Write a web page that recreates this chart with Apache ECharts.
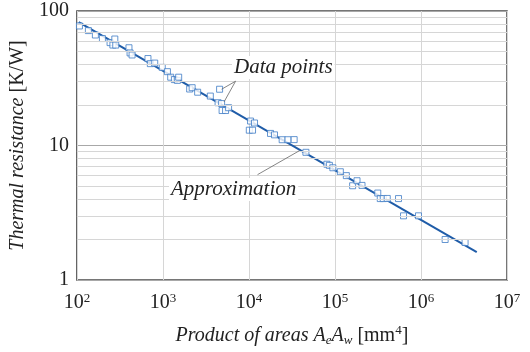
<!DOCTYPE html>
<html><head><meta charset="utf-8">
<script src="https://cdn.jsdelivr.net/npm/echarts@6/dist/echarts.min.js"></script>
<style>html,body{margin:0;padding:0;background:#fff}#c{width:530px;height:352px}</style>
</head><body><div id="c"></div>
<script>
// Data points (product of areas AeAw [mm^4], thermal resistance [K/W])
var areaVals = [107,136,164,198,243,276,262,283,403,415,438,670,714,803,982,1128,1232,1360,1473,1525,
  2046,2187,2533,3556,4560,4380,4810,4875,5350,5800,10440,11610,10100,11010,17810,19820,24340,28420,33540,45960,
  80550,86100,94500,115500,135600,160500,180500,206300,314600,336300,364300,405500,548200,626600,935400,1909000,3257000];
var resistVals = [77.4,71.5,66.3,62.4,58.2,61.9,55.8,55.8,53.3,48.8,47.1,44.3,40.6,41.0,38.1,35.4,32.2,30.9,30.5,32.2,
  26.3,26.9,24.9,23.3,26.2,20.8,20.5,18.2,18.2,19.1,15.2,14.7,13.0,13.0,12.3,12.0,11.04,11.04,11.06,8.9,
  7.26,7.12,6.83,6.38,5.97,5.02,5.47,5.05,4.43,4.03,4.03,4.04,4.03,3.0,3.0,2.0,1.9];
// Approximation line endpoints
var approxX = [105, 4450000];
var approxY = [82.8, 1.61];
// Axis ticks
var xTicks = [100, 1000, 10000, 100000, 1000000, 10000000];
var yTicks = [1, 10, 100];
var yMinor = [2,3,4,5,6,7,8,9,20,30,40,50,60,70,80,90];
// Annotation pointers (data space)
var dpFrom = [6990, 30.05];
var dpTo1 = [4810, 26.2];
var dpTo2 = [5140, 21.1];
var apFrom = [12580, 6.07];
var apTo = [38640, 9.15];

var serif = "'Liberation Serif','Times New Roman',serif";
var chart = echarts.init(document.getElementById('c'));
var pts = areaVals.map(function(v,i){return [v, resistVals[i]];});
var approx = approxX.map(function(v,i){return [v, approxY[i]];});

chart.setOption({
  animation: false,
  backgroundColor: '#fff',
  grid: {left: 76, right: 23, top: 11, bottom: 66, show: true, borderColor: '#4a4a4a', borderWidth: 1.5, backgroundColor: 'transparent'},
  xAxis: {
    type: 'log', logBase: 10, min: xTicks[0], max: xTicks[xTicks.length-1],
    axisLine: {show: false}, axisTick: {show: false},
    splitLine: {show: true, lineStyle: {color: '#d6d6d6', width: 1}},
    axisLabel: {
      margin: 12,
      formatter: function(v){ return '{b|10}{s|' + Math.round(Math.log10(v)) + '}'; },
      rich: {
        b: {fontFamily: serif, fontSize: 20, color: '#222', verticalAlign: 'bottom'},
        s: {fontFamily: serif, fontSize: 13, color: '#222', verticalAlign: 'top', padding: [0,0,8,0]}
      }
    },
    name: '{i|Product of areas A}{sb|e}{i|A}{sb|w}{n| [mm}{sp|4}{n|]}',
    nameLocation: 'middle', nameGap: 44,
    nameTextStyle: {
      rich: {
        i: {fontFamily: serif, fontStyle: 'italic', fontSize: 20, color: '#222'},
        n: {fontFamily: serif, fontSize: 20, color: '#222'},
        sb: {fontFamily: serif, fontStyle: 'italic', fontSize: 13, color: '#222', padding: [10,0,0,0]},
        sp: {fontFamily: serif, fontSize: 13, color: '#222', padding: [0,0,10,0]}
      }
    }
  },
  yAxis: {
    type: 'log', logBase: 10, min: yTicks[0], max: yTicks[yTicks.length-1],
    axisLine: {show: false}, axisTick: {show: false},
    splitLine: {show: true, lineStyle: {color: '#a8a8a8', width: 1}},
    axisLabel: {margin: 8, fontFamily: serif, fontSize: 20, color: '#222'},
    name: '{i|Thermal resistance }{n|[K/W]}',
    nameLocation: 'middle', nameGap: 41, nameRotate: 90,
    nameTextStyle: {
      rich: {
        i: {fontFamily: serif, fontStyle: 'italic', fontSize: 20, color: '#222'},
        n: {fontFamily: serif, fontSize: 20, color: '#222'}
      }
    }
  },
  graphic: [
    {type: 'text', left: 232, top: 56, silent: true, z: 100,
     style: {text: 'Data points', font: 'italic 21px ' + serif, fill: '#222', backgroundColor: '#fff', padding: [1,2,1,2]}},
    {type: 'text', left: 169, top: 178, silent: true, z: 100,
     style: {text: 'Approximation', font: 'italic 21px ' + serif, fill: '#222', backgroundColor: '#fff', padding: [1,2,1,2]}}
  ],
  series: [
    {
      type: 'line', name: 'minor grid', data: [], silent: true, z: 0,
      markLine: {silent: true, symbol: 'none', label: {show: false},
        lineStyle: {color: '#d6d6d6', width: 1, type: 'solid'},
        data: yMinor.map(function(v){return {yAxis: v};})}
    },
    {
      type: 'line', name: 'Approximation', data: approx, showSymbol: false, symbol: 'none',
      lineStyle: {color: '#1f5ca8', width: 2}, z: 3,
      markLine: {silent: true, symbol: 'none', label: {show: false},
        lineStyle: {color: '#666', width: 0.8, type: 'solid'},
        data: [[{coord: apFrom}, {coord: apTo}], [{coord: dpFrom}, {coord: dpTo1}], [{coord: dpFrom}, {coord: dpTo2}]]}
    },
    {
      type: 'scatter', name: 'Data points', data: pts, symbol: 'rect', symbolSize: 6, z: 4,
      itemStyle: {color: '#ffffff', borderColor: '#3f7cc6', borderWidth: 1}
    }
  ]
});
</script></body></html>
